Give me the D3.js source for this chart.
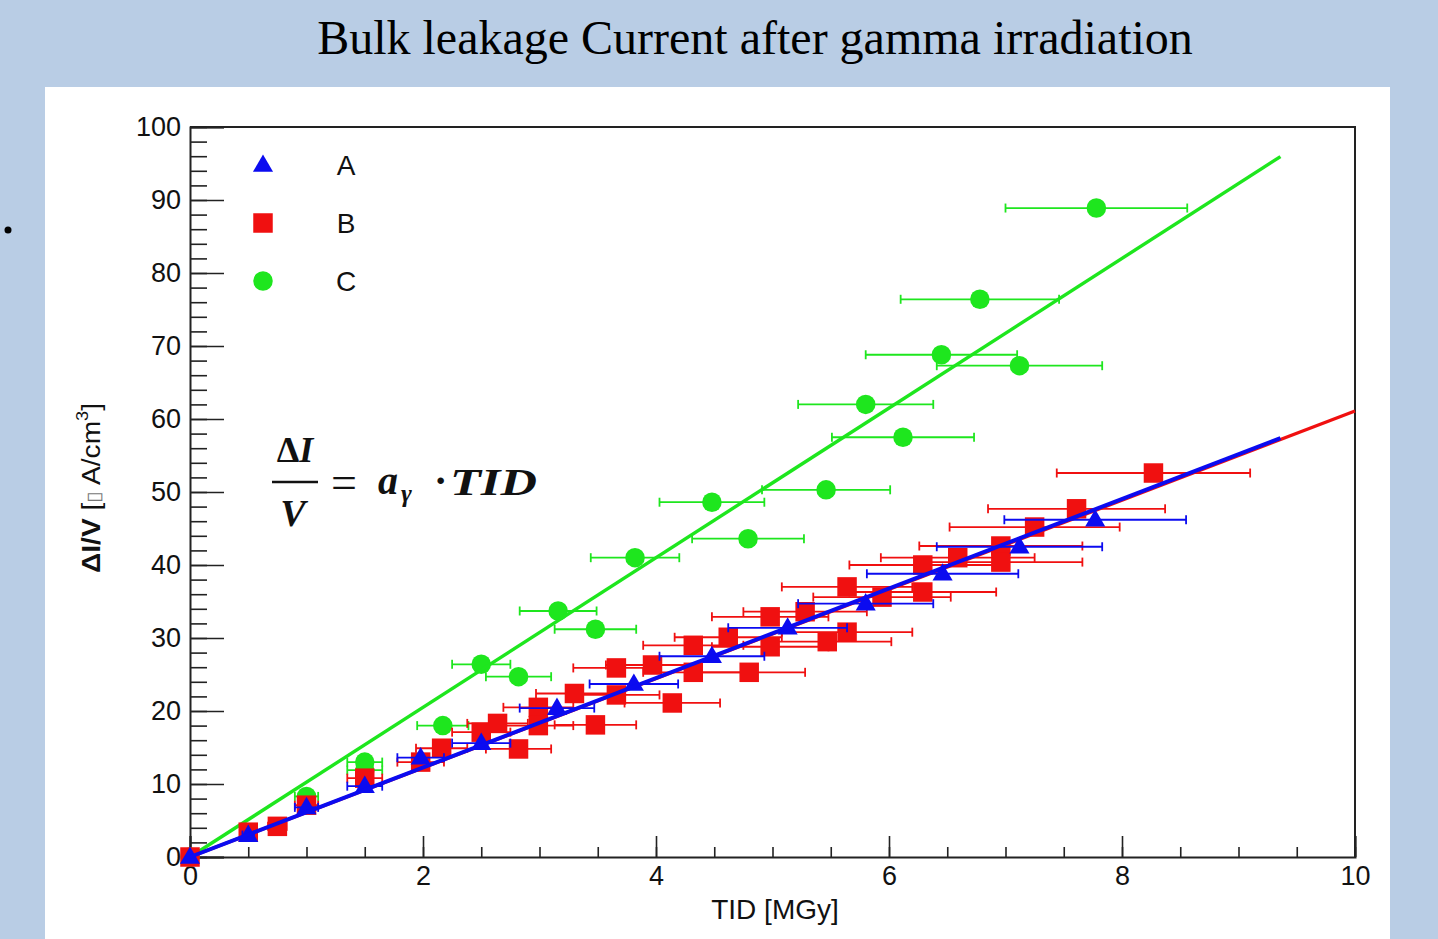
<!DOCTYPE html>
<html>
<head>
<meta charset="utf-8">
<script src="https://cdn.jsdelivr.net/npm/d3@7"></script>
<style>
  html, body { margin: 0; padding: 0; background: #b9cde5; }
  svg { display: block; }
</style>
</head>
<body>
<svg id="chart" width="1438" height="939"></svg>
<script>
// Sample A (blue triangles): dose [MGy], ΔI/V and horizontal dose uncertainty
const aX   = [0, 0.5, 1.0, 1.5, 1.98, 2.5, 3.15, 3.81, 4.48, 5.13, 5.8, 6.46, 7.12, 7.77];
const aY   = [0, 3.0, 6.8, 9.7, 13.6, 15.6, 20.4, 23.7, 27.5, 31.4, 34.7, 38.8, 42.5, 46.2];
const aErr = [0, 0.05, 0.1, 0.15, 0.2, 0.25, 0.32, 0.38, 0.45, 0.51, 0.58, 0.65, 0.71, 0.78];

// Sample B (red squares)
const bX   = [0, 0.5, 0.75, 1.0, 1.5, 1.98, 2.16, 2.5, 2.64, 2.82, 2.99, 2.99, 3.3, 3.48, 3.66, 3.66,
              3.97, 4.14, 4.32, 4.32, 4.62, 4.8, 4.98, 4.98, 5.28, 5.47, 5.64, 5.64, 5.94, 6.29, 6.29,
              6.59, 6.96, 6.96, 7.25, 7.61, 8.27];
const bY   = [0, 3.4, 4.2, 7.1, 10.8, 13.0, 14.9, 17.1, 18.3, 14.8, 20.5, 18.0, 22.4, 18.1, 25.9, 22.2,
              26.3, 21.1, 29.0, 25.3, 30.1, 25.3, 32.9, 28.8, 33.6, 29.5, 30.8, 37.0, 35.6, 40.0, 36.3,
              41.0, 42.6, 40.4, 45.2, 47.7, 52.6];
const bErr = [0, 0.05, 0.08, 0.1, 0.15, 0.2, 0.22, 0.25, 0.26, 0.28, 0.3, 0.3, 0.33, 0.35, 0.37, 0.37,
              0.4, 0.41, 0.43, 0.43, 0.46, 0.48, 0.5, 0.5, 0.53, 0.55, 0.56, 0.56, 0.59, 0.63, 0.63,
              0.66, 0.7, 0.7, 0.73, 0.76, 0.83];

// Sample C (green circles)
const cX   = [0, 1.0, 1.5, 1.5, 2.17, 2.5, 2.82, 3.16, 3.48, 3.82, 4.48, 4.79, 5.46, 5.8, 6.12, 6.45, 6.78, 7.12, 7.78];
const cY   = [0, 8.3, 13.0, 11.9, 18.0, 26.4, 24.7, 33.7, 31.2, 41.0, 48.6, 43.6, 50.3, 62.0, 57.5, 68.8, 76.4, 67.3, 88.9];
const cErr = [0, 0.1, 0.15, 0.15, 0.22, 0.25, 0.28, 0.33, 0.35, 0.38, 0.45, 0.48, 0.55, 0.58, 0.61, 0.65, 0.68, 0.71, 0.78];

// Linear fits ΔI/V = a·TID : slope and the dose range each fit is drawn over
const fitNames  = ["C", "B", "A"];
const fitSlopes = [10.25, 6.11, 6.13];
const fitXmax   = [9.36, 10.0, 9.36];

// Axis ticks
const xMajorTicks = [0, 2, 4, 6, 8, 10];
const yMajorTicks = [0, 10, 20, 30, 40, 50, 60, 70, 80, 90, 100];

const legendLabels = ["A", "B", "C"];

const colors = { A: "#0b0bf0", B: "#f01010", C: "#1ee61e" };

const svg = d3.select("#chart");

// Slide panel and title
svg.append("rect").attr("x", 45).attr("y", 87).attr("width", 1345).attr("height", 860).attr("fill", "#ffffff");
svg.append("text")
  .attr("x", 755).attr("y", 54)
  .attr("text-anchor", "middle")
  .attr("font-family", "'Liberation Serif', 'Times New Roman', serif")
  .attr("font-size", 48)
  .attr("fill", "#000")
  .text("Bulk leakage Current after gamma irradiation");
svg.append("circle").attr("cx", 8).attr("cy", 230).attr("r", 3.5).attr("fill", "#000");

const x = d3.scaleLinear().domain([0, 10]).range([190, 1355]);
const y = d3.scaleLinear().domain([0, 100]).range([857, 127]);

const axisFont = "'Liberation Sans', Arial, sans-serif";

// Frame (top and right sides)
svg.append("path")
  .attr("d", `M${x(0)},${y(100)}H${x(10)}V${y(0)}`)
  .attr("fill", "none").attr("stroke", "#222").attr("stroke-width", 2);

// Bottom axis: minor then major ticks, pointing into the frame
const gx = svg.append("g").attr("transform", `translate(0,${y(0)})`);
gx.append("g").call(d3.axisBottom(x).tickValues(d3.range(0, 10.01, 0.5)).tickSize(-10).tickFormat(""))
  .call(g => g.select(".domain").remove());
gx.append("g").call(d3.axisBottom(x).tickValues(xMajorTicks).tickSize(-21).tickPadding(9).tickFormat(d3.format("d")))
  .call(g => g.select(".domain").attr("stroke-width", 2).attr("stroke", "#222"));
gx.selectAll("text").attr("font-family", axisFont).attr("font-size", 27).attr("fill", "#111");
gx.selectAll("line").attr("stroke", "#222").attr("stroke-width", 1.6);

// Left axis
const gy = svg.append("g").attr("transform", `translate(${x(0)},0)`);
gy.append("g").call(d3.axisLeft(y).tickValues(d3.range(0, 100.1, 2)).tickSize(-17).tickFormat(""))
  .call(g => g.select(".domain").remove());
gy.append("g").call(d3.axisLeft(y).tickValues(yMajorTicks).tickSize(-34).tickPadding(9).tickFormat(d3.format("d")))
  .call(g => g.select(".domain").attr("stroke-width", 2).attr("stroke", "#222"));
gy.selectAll("text").attr("font-family", axisFont).attr("font-size", 27).attr("fill", "#111");
gy.selectAll("line").attr("stroke", "#222").attr("stroke-width", 1.6);

// Axis titles
svg.append("text")
  .attr("x", 775).attr("y", 919)
  .attr("text-anchor", "middle")
  .attr("font-family", axisFont).attr("font-size", 28).attr("fill", "#111")
  .text("TID [MGy]");

const yTitle = svg.append("text")
  .attr("transform", "translate(100,488) rotate(-90)")
  .attr("text-anchor", "middle")
  .attr("textLength", 170).attr("lengthAdjust", "spacingAndGlyphs")
  .attr("font-family", axisFont).attr("font-size", 25).attr("fill", "#111");
yTitle.append("tspan").attr("font-weight", "bold").text("ΔI/V");
yTitle.append("tspan").text(" [");
yTitle.append("tspan").attr("font-size", 19).attr("fill", "#777").text("▯");
yTitle.append("tspan").text(" A/cm");
yTitle.append("tspan").attr("font-size", 16).attr("dy", -12).text("3");
yTitle.append("tspan").attr("dy", 12).text("]");

// Marker shapes
const symbols = {
  A: d3.symbol(d3.symbolTriangle, 175),
  B: d3.symbol(d3.symbolSquare, 380),
  C: d3.symbol(d3.symbolCircle, 300)
};

const series = [
  { key: "C", xs: cX, ys: cY, err: cErr },
  { key: "B", xs: bX, ys: bY, err: bErr },
  { key: "A", xs: aX, ys: aY, err: aErr }
];

const plot = svg.append("g");

series.forEach(s => {
  const pts = s.xs.map((v, i) => ({ x: v, y: s.ys[i], e: s.err[i] }));
  const col = colors[s.key];
  const g = plot.append("g");

  // horizontal dose error bars with end caps
  const eb = g.append("g").attr("stroke", col).attr("stroke-width", 1.8);
  pts.filter(p => p.e > 0).forEach(p => {
    const x0 = x(p.x - p.e), x1 = x(p.x + p.e), py = y(p.y);
    eb.append("line").attr("x1", x0).attr("x2", x1).attr("y1", py).attr("y2", py);
    eb.append("line").attr("x1", x0).attr("x2", x0).attr("y1", py - 4.5).attr("y2", py + 4.5);
    eb.append("line").attr("x1", x1).attr("x2", x1).attr("y1", py - 4.5).attr("y2", py + 4.5);
  });

  // markers
  g.selectAll("path.m").data(pts).join("path")
    .attr("class", "m")
    .attr("d", symbols[s.key])
    .attr("transform", p => `translate(${x(p.x)},${y(p.y) + (s.key === "A" ? 1 : 0)})`)
    .attr("fill", col);

  // fitted line
  const fi = fitNames.indexOf(s.key);
  const line = d3.line().x(d => x(d[0])).y(d => y(d[1]));
  g.append("path")
    .attr("d", line([[0, 0], [fitXmax[fi], fitSlopes[fi] * fitXmax[fi]]]))
    .attr("fill", "none")
    .attr("stroke", col)
    .attr("stroke-width", s.key === "A" ? 4 : 3.4);
});

// Legend
const legend = svg.append("g");
legendLabels.forEach((k, i) => {
  const cy = 165 + i * 58;
  legend.append("path").attr("d", symbols[k]).attr("transform", `translate(263,${cy + (k === "A" ? 1 : 0)})`).attr("fill", colors[k]);
  legend.append("text").attr("x", 346).attr("y", cy + 10).attr("text-anchor", "middle")
    .attr("font-family", axisFont).attr("font-size", 28).attr("fill", "#111").text(k);
});

// Fit formula ΔI/V = a_γ · TID
const serif = "'Liberation Serif', 'Times New Roman', serif";
const fm = svg.append("g").attr("font-family", serif).attr("font-weight", "bold").attr("fill", "#111");
const num = fm.append("text").attr("x", 295).attr("y", 462).attr("text-anchor", "middle").attr("font-size", 36);
num.append("tspan").text("Δ");
num.append("tspan").attr("font-style", "italic").text("I");
fm.append("line").attr("x1", 272).attr("x2", 318).attr("y1", 482).attr("y2", 482).attr("stroke", "#111").attr("stroke-width", 2.5);
fm.append("text").attr("x", 293).attr("y", 526).attr("text-anchor", "middle").attr("font-size", 38).attr("font-style", "italic").text("V");
fm.append("text").attr("x", 331).attr("y", 498).attr("font-size", 46).attr("font-weight", "normal").text("=");
fm.append("text").attr("x", 378).attr("y", 494).attr("font-size", 40).attr("font-style", "italic").text("a");
fm.append("text").attr("x", 401).attr("y", 502).attr("font-size", 26).attr("font-style", "italic").text("γ");
fm.append("text").attr("x", 434).attr("y", 494).attr("font-size", 40).text("·");
fm.append("text").attr("x", 450).attr("y", 495).attr("font-size", 38).attr("font-style", "italic")
  .attr("textLength", 87).attr("lengthAdjust", "spacingAndGlyphs").text("TID");
</script>
</body>
</html>
